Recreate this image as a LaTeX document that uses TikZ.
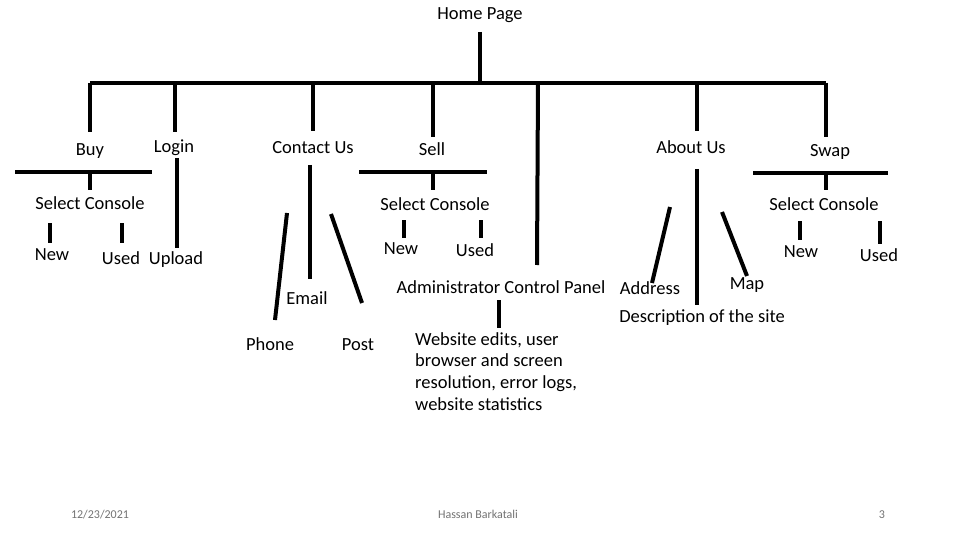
\documentclass[tikz,border=0pt]{standalone}
\usepackage{fontspec}
\setmainfont{Carlito}
\begin{document}
\begin{tikzpicture}[x=1pt,y=-1pt,
  lbl/.style={font=\fontsize{18.5}{21.7}\selectfont, inner sep=0pt, anchor=mid, yshift=-1.7pt},
  multi/.style={font=\fontsize{18.5}{21.7}\selectfont, inner sep=0pt, align=left, anchor=north west},
  foot/.style={font=\fontsize{12}{14}\selectfont, text=black!55, inner sep=0pt, anchor=mid, yshift=-1.2pt},
  link/.style={line width=4pt, line cap=butt}]
\useasboundingbox (0,0) rectangle (960,540);
\fill[white] (0,0) rectangle (960,540);

% ---- labels ----
\node[lbl] (home) at (480,15) {Home Page};
\node[lbl] (buy) at (90,151) {Buy};
\node[lbl] (login) at (174,148) {Login};
\node[lbl] (contact) at (313,149) {Contact Us};
\node[lbl] (sell) at (432,151) {Sell};
\node[lbl] (about) at (691,149) {About Us};
\node[lbl] (swap) at (830,152) {Swap};

\node[lbl] (bsc) at (90,205) {Select Console};
\node[lbl] (bnew) at (52,256) {New};
\node[lbl] (bused) at (121,260) {Used};
\node[lbl] (upload) at (176,260) {Upload};

\node[lbl] (email) at (307,300) {Email};
\node[lbl] (phone) at (270,346) {Phone};
\node[lbl] (post) at (358,346) {Post};

\node[lbl] (ssc) at (435,206) {Select Console};
\node[lbl] (snew) at (401,250) {New};
\node[lbl] (sused) at (475,252) {Used};

\node[lbl] (admin) at (501,289) {Administrator Control Panel};
\node[multi] (edits) at (415,332) {Website edits, user\\browser and screen\\resolution, error logs,\\website statistics};

\node[lbl] (address) at (650,290) {Address};
\node[lbl] (map) at (747,285) {Map};
\node[lbl] (desc) at (702,318) {Description of the site};

\node[lbl] (wsc) at (824,206) {Select Console};
\node[lbl] (wnew) at (801,253) {New};
\node[lbl] (wused) at (879,257) {Used};

\node[foot] (date) at (100,515) {12/23/2021};
\node[foot] (author) at (478,515) {Hassan Barkatali};
\node[foot] (pnum) at (882,515) {3};

% ---- connector end points ----
\coordinate (hT) at (480,32);
\coordinate (hB) at (480,83);
\coordinate (barL) at (90,83);
\coordinate (barR) at (826,83);

\coordinate (buyT) at (90,83);   \coordinate (buyB) at (90,132);
\coordinate (logT) at (175,83);  \coordinate (logB) at (175,132);
\coordinate (conT) at (313,83);  \coordinate (conB) at (313,131);
\coordinate (selT) at (433,83);  \coordinate (selB) at (433,137);
\coordinate (admT) at (538,83);  \coordinate (admB) at (537,265);
\coordinate (abtT) at (697,83);  \coordinate (abtB) at (697,131);
\coordinate (swpT) at (826,83);  \coordinate (swpB) at (826,137);

% Buy subtree
\coordinate (bbarL) at (15,172); \coordinate (bbarR) at (152,172);
\coordinate (bstT) at (90,172);  \coordinate (bstB) at (90,190);
\coordinate (bnT) at (50,223);   \coordinate (bnB) at (50,243);
\coordinate (buT) at (122,223);  \coordinate (buB) at (122,243);
% Login
\coordinate (lgT) at (177,158);  \coordinate (lgB) at (177,248);
% Contact
\coordinate (ctT) at (310,165);  \coordinate (ctB) at (310,279);
\coordinate (phT) at (287,213);  \coordinate (phB) at (275,320);
\coordinate (poT) at (331,214);  \coordinate (poB) at (362,303);
% Sell subtree
\coordinate (sbarL) at (359,172); \coordinate (sbarR) at (487,172);
\coordinate (sstT) at (433,172);  \coordinate (sstB) at (433,190);
\coordinate (snT) at (404,220);   \coordinate (snB) at (404,238);
\coordinate (suT) at (481,220);   \coordinate (suB) at (481,238);
% Admin
\coordinate (adT) at (499,300);   \coordinate (adB) at (499,328);
% About
\coordinate (abT) at (697,169);   \coordinate (abB) at (697,305);
\coordinate (adrT) at (670,207);  \coordinate (adrB) at (652,283);
\coordinate (mpT) at (722,212);   \coordinate (mpB) at (747,276);
% Swap subtree
\coordinate (wbarL) at (753,173); \coordinate (wbarR) at (888,173);
\coordinate (wstT) at (826,173);  \coordinate (wstB) at (826,190);
\coordinate (wnT) at (800,221);   \coordinate (wnB) at (800,240);
\coordinate (wuT) at (880,221);   \coordinate (wuB) at (880,244);

% ---- connectors ----
\draw[link] (hT) -- (hB);
\draw[link] (barL) -- (barR);
\foreach \a/\b in {buyT/buyB, logT/logB, conT/conB, selT/selB, admT/admB, abtT/abtB, swpT/swpB,
  bbarL/bbarR, bstT/bstB, bnT/bnB, buT/buB, lgT/lgB, ctT/ctB, phT/phB, poT/poB,
  sbarL/sbarR, sstT/sstB, snT/snB, suT/suB, adT/adB, abT/abB, adrT/adrB, mpT/mpB,
  wbarL/wbarR, wstT/wstB, wnT/wnB, wuT/wuB}
  \draw[link] (\a) -- (\b);
\end{tikzpicture}
\end{document}
